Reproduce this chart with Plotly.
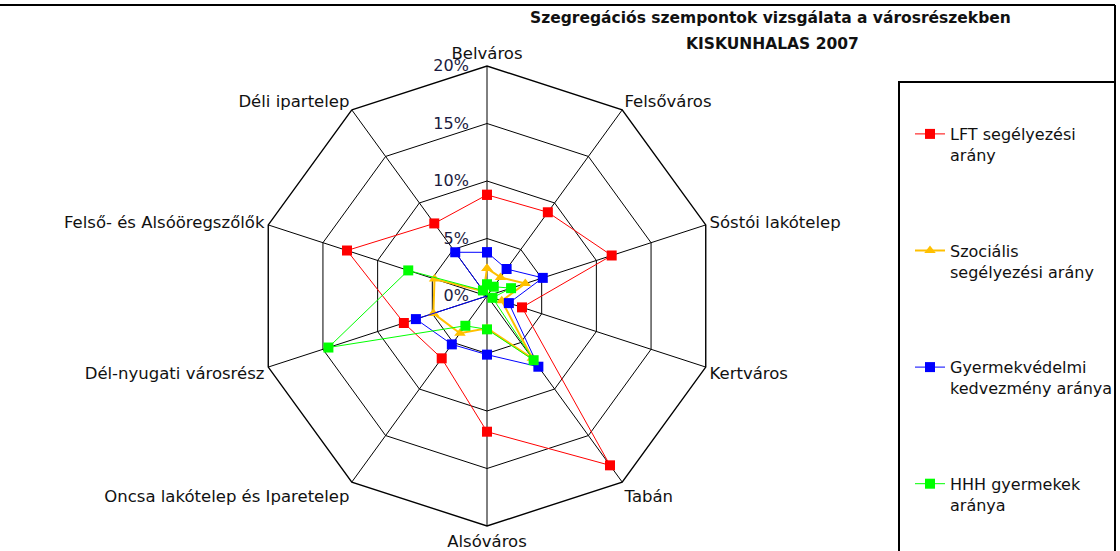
import plotly.graph_objects as go

categories = ["Belváros", "Felsőváros", "Sóstói lakótelep", "Kertváros", "Tabán",
              "Alsóváros", "Oncsa lakótelep és Iparetelep", "Dél-nyugati városrész",
              "Felső- és Alsóöregszőlők", "Déli ipartelep"]

lft = [8.8, 9.0, 11.4, 3.2, 18.2, 11.8, 6.7, 7.6, 12.8, 7.8]
szoc = [2.4, 2.0, 3.5, 1.35, 6.7, 2.8, 4.0, 4.9, 4.8, 0.5]
gyv = [3.8, 2.9, 5.1, 2.0, 7.6, 5.1, 5.2, 6.5, 0.0, 4.7]
hhh = [1.0, 1.0, 2.2, 0.5, 6.9, 2.9, 3.2, 14.5, 7.2, 0.6]

series_names = ["LFT segélyezési<br>arány", "Szociális<br>segélyezési arány",
                "Gyermekvédelmi<br>kedvezmény aránya", "HHH gyermekek<br>aránya"]
series_values = [lft, szoc, gyv, hhh]
colors = ["#FF0000", "#FFC000", "#0000FF", "#00FF00"]
symbols = ["square", "triangle-up", "square", "square"]
widths = [1, 2, 1, 1]

radial_ticks = [0, 5, 10, 15, 20]

W, H = 1120, 551
cx, cy, R = 487, 296, 230

fig = go.Figure()
for i, (name, vals) in enumerate(zip(series_names, series_values)):
    fig.add_trace(go.Scatterpolar(
        r=vals + vals[:1],
        theta=categories + categories[:1],
        mode="lines+markers",
        name=name,
        legendgroup=f"g{i}",
        line=dict(color=colors[i], width=widths[i]),
        marker=dict(color=colors[i], symbol=symbols[i], size=10),
        cliponaxis=False,
    ))

font_family = "DejaVu Sans"

fig.update_layout(
    width=W, height=H, autosize=False,
    margin=dict(l=0, r=0, t=0, b=0),
    paper_bgcolor="white", plot_bgcolor="white",
    font=dict(family=font_family, size=16, color="#111111"),
    polar=dict(
        domain=dict(x=[(cx - R) / W, (cx + R) / W], y=[1 - (cy + R) / H, 1 - (cy - R) / H]),
        gridshape="linear",
        bgcolor="white",
        angularaxis=dict(
            rotation=90, direction="clockwise",
            categoryorder="array", categoryarray=categories,
            linecolor="black", linewidth=1.4,
            gridcolor="black", gridwidth=1.4,
            ticks="", showticklabels=True,
            tickfont=dict(family=font_family, size=16.5, color="#111111"),
        ),
        radialaxis=dict(
            range=[0, 20], tickvals=radial_ticks,
            ticktext=[f"{v}%&nbsp;&nbsp;&nbsp;" for v in radial_ticks],
            angle=90, tickangle=90, side="counterclockwise",
            showline=False, ticks="",
            gridcolor="black", gridwidth=1.4,
            tickfont=dict(family=font_family, size=16, color="#1a1a40"),
        ),
    ),
    legend=dict(
        x=910 / W, y=1 - 117 / H, xanchor="left", yanchor="top",
        bgcolor="rgba(0,0,0,0)", borderwidth=0,
        tracegroupgap=72, valign="top",
        font=dict(family=font_family, size=16, color="#111111"),
    ),
    showlegend=True,
)

# frame and legend box
fig.add_shape(type="line", xref="paper", yref="paper", x0=0, x1=1115 / W,
              y0=1 - 5 / H, y1=1 - 5 / H, line=dict(color="black", width=2))
fig.add_shape(type="line", xref="paper", yref="paper", x0=1115 / W, x1=1115 / W,
              y0=0, y1=1 - 5 / H, line=dict(color="black", width=2))
fig.add_shape(type="rect", xref="paper", yref="paper", x0=899 / W, x1=1115 / W,
              y0=-0.05, y1=1 - 82 / H, line=dict(color="black", width=2))

fig.add_annotation(text="<b>Szegregációs szempontok vizsgálata a városrészekben</b>",
                   xref="paper", yref="paper", x=770 / W, y=1 - 18 / H,
                   xanchor="center", yanchor="middle", showarrow=False,
                   font=dict(family=font_family, size=15.5, color="#111111"))
fig.add_annotation(text="<b>KISKUNHALAS 2007</b>",
                   xref="paper", yref="paper", x=772 / W, y=1 - 44 / H,
                   xanchor="center", yanchor="middle", showarrow=False,
                   font=dict(family=font_family, size=15.5, color="#111111"))

fig.write_html("out.html", config={"displayModeBar": False},
               post_script="document.body.style.margin='0';")
